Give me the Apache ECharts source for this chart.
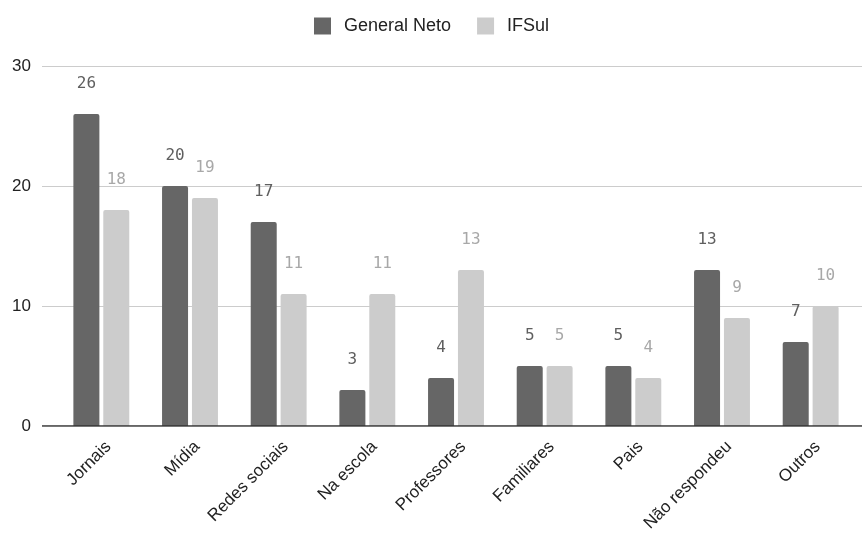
<!DOCTYPE html>
<html>
<head>
<meta charset="utf-8">
<script src="https://cdn.jsdelivr.net/npm/echarts@6/dist/echarts.min.js"></script>
<style>
  html, body { margin: 0; padding: 0; background: #fff; }
  #chart { width: 862px; height: 539px; }
</style>
</head>
<body>
<div id="chart"></div>
<script>
// Categories and values per school
const categories = ['Jornais', 'Mídia', 'Redes sociais', 'Na escola', 'Professores', 'Familiares', 'Pais', 'Não respondeu', 'Outros'];
const generalNeto = [26, 20, 17, 3, 4, 5, 5, 13, 7];
const ifsul = [18, 19, 11, 11, 13, 5, 4, 9, 10];
const yTicks = [0, 10, 20, 30];

const chart = echarts.init(document.getElementById('chart'), null, { renderer: 'canvas' });

const textFont = '"Liberation Sans", Arial, sans-serif';
const valueFont = '"DejaVu Sans Mono", monospace';

chart.setOption({
  animation: false,
  backgroundColor: '#ffffff',
  legend: {
    top: 12,
    left: 309,
    itemWidth: 17,
    itemHeight: 17,
    itemGap: 26,
    icon: 'rect',
    textStyle: { fontFamily: textFont, fontSize: 18, color: '#222', padding: [0, 0, 0, 8] },
    data: ['General Neto', 'IFSul']
  },
  grid: [
    // background grid: gridlines, y labels and baseline
    { left: 42, right: 0, top: 66, height: 360 },
    // plotting grid for the bars
    { left: 57, right: 7, top: 66, height: 360 }
  ],
  xAxis: [
    {
      gridIndex: 0, type: 'value', min: 0, max: 1, show: true,
      axisLine: { show: false }, axisTick: { show: false }, axisLabel: { show: false }, splitLine: { show: false }
    },
    {
      gridIndex: 1, type: 'category', data: categories,
      axisLine: { show: false }, axisTick: { show: false },
      axisLabel: {
        rotate: 45, interval: 0, margin: 11,
        formatter: v => '{c|' + v + '}',
        rich: {
          c: {
            padding: [20, 0, 0, 0],
            fontFamily: textFont, fontSize: 17, color: '#222'
          }
        },
        fontFamily: textFont, fontSize: 17, color: '#222'
      }
    }
  ],
  yAxis: [
    {
      gridIndex: 0, type: 'value', min: 0, max: 30, interval: 10,
      axisLine: { show: false }, axisTick: { show: false },
      axisLabel: {
        margin: 11, fontFamily: textFont, fontSize: 17, color: '#222',
        formatter: v => yTicks.includes(v) ? String(v) : ''
      },
      splitLine: { lineStyle: { color: '#cccccc', width: 1 } }
    },
    {
      gridIndex: 1, type: 'value', min: 0, max: 30, interval: 10, show: false
    }
  ],
  series: [
    {
      // baseline at zero across the full plot width
      type: 'line', xAxisIndex: 0, yAxisIndex: 0,
      data: [[0, 0], [1, 0]], symbol: 'none', silent: true,
      lineStyle: { color: '#333', width: 1.5 }, z: 5,
      legendHoverLink: false
    },
    {
      name: 'General Neto', type: 'bar', xAxisIndex: 1, yAxisIndex: 1,
      data: generalNeto, barWidth: 26, barGap: '15%',
      itemStyle: { color: '#666666', borderRadius: [2, 2, 0, 0] },
      label: {
        show: true, position: 'top', distance: 22,
        fontFamily: valueFont, fontSize: 16, color: '#5f5f5f'
      }
    },
    {
      name: 'IFSul', type: 'bar', xAxisIndex: 1, yAxisIndex: 1,
      data: ifsul, barWidth: 26, barGap: '15%',
      itemStyle: { color: '#cccccc', borderRadius: [2, 2, 0, 0] },
      label: {
        show: true, position: 'top', distance: 22,
        fontFamily: valueFont, fontSize: 16, color: '#a8a8a8'
      }
    }
  ]
});
</script>
</body>
</html>
